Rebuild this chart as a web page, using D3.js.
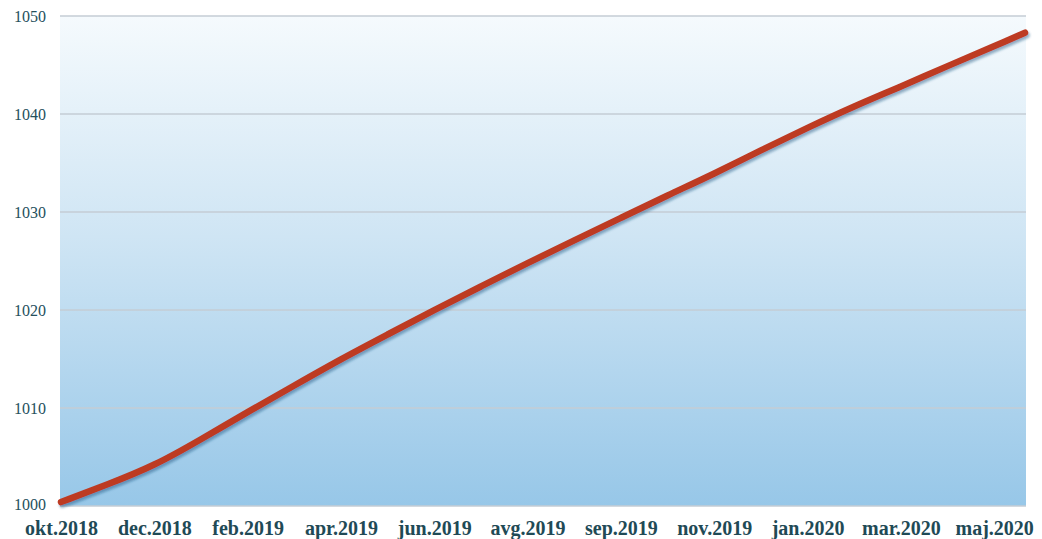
<!DOCTYPE html>
<html>
<head>
<meta charset="utf-8">
<script src="https://cdn.jsdelivr.net/npm/d3@7"></script>
<style>
  html, body { margin: 0; padding: 0; background: #ffffff; }
  svg { display: block; }
</style>
</head>
<body>
<svg id="chart" width="1042" height="539"></svg>
<script>
// ---- data ----
const xLabels = ["okt.2018", "dec.2018", "feb.2019", "apr.2019", "jun.2019", "avg.2019",
                 "sep.2019", "nov.2019", "jan.2020", "mar.2020", "maj.2020"];
// positions along the axis in label units (0 = okt.2018 ... 10 = maj.2020)
const seriesPos = [0, 0.5, 1, 1.5, 2, 2.5, 3, 3.5, 4, 4.5, 5, 5.5, 6, 6.5, 7, 7.5, 8, 8.5, 9, 9.5, 10, 10.33];
const seriesVal = [1000.4, 1002.2, 1004.1, 1006.8, 1009.6, 1012.3, 1015.0, 1017.5, 1020.0, 1022.4, 1024.8,
                   1027.1, 1029.4, 1031.7, 1033.9, 1036.3, 1038.6, 1040.8, 1042.8, 1044.9, 1046.9, 1048.3];
const yTicks = [1000, 1010, 1020, 1030, 1040, 1050];

// ---- layout ----
const svg = d3.select("#chart");
const plot = { left: 60, right: 1026, top: 16, bottom: 506 };

const x = d3.scaleLinear().domain([0, 10.33]).range([61, 1025]);
const y = d3.scaleLinear().domain([1000, 1050]).range([plot.bottom, plot.top]);

const defs = svg.append("defs");
const grad = defs.append("linearGradient").attr("id", "bg")
  .attr("x1", 0).attr("y1", 0).attr("x2", 0).attr("y2", 1);
grad.append("stop").attr("offset", "0%").attr("stop-color", "#f5fafd");
grad.append("stop").attr("offset", "45%").attr("stop-color", "#cfe5f4");
grad.append("stop").attr("offset", "100%").attr("stop-color", "#97c7e8");

const shadow = defs.append("filter").attr("id", "shadow")
  .attr("x", "-5%").attr("y", "-5%").attr("width", "110%").attr("height", "110%");
shadow.append("feDropShadow").attr("dx", 1.5).attr("dy", 2.5).attr("stdDeviation", 1.2)
  .attr("flood-color", "#1d4f7a").attr("flood-opacity", 0.45);

// plot background
svg.append("rect")
  .attr("x", plot.left).attr("y", plot.top)
  .attr("width", plot.right - plot.left).attr("height", plot.bottom - plot.top)
  .attr("fill", "url(#bg)");

// gridlines
svg.append("g").selectAll("line").data(yTicks).join("line")
  .attr("x1", plot.left).attr("x2", plot.right)
  .attr("y1", d => y(d)).attr("y2", d => y(d))
  .attr("stroke", "#c4ccd4").attr("stroke-width", 1.5);

// y axis labels
const yAxis = d3.axisLeft(y).tickValues(yTicks).tickSize(0).tickPadding(0).tickFormat(d3.format("d"));
const gy = svg.append("g").attr("transform", "translate(46,0)").call(yAxis);
gy.select(".domain").remove();
gy.selectAll("text")
  .attr("font-family", "'Liberation Serif', 'Times New Roman', serif")
  .attr("font-size", 16).attr("fill", "#24505c");
gy.selectAll(".tick").filter(d => d === 1000).select("text").attr("dy", "0.2em");

// x axis labels
const xAxis = d3.axisBottom(x).tickValues(d3.range(xLabels.length)).tickSize(0).tickPadding(0)
  .tickFormat(i => xLabels[i]);
const gx = svg.append("g").attr("transform", "translate(0,521)").call(xAxis);
gx.select(".domain").remove();
gx.selectAll("text")
  .attr("font-family", "'Liberation Serif', 'Times New Roman', serif")
  .attr("font-size", 20).attr("font-weight", "bold").attr("fill", "#1f4a56");

// line
const pts = seriesPos.map((p, i) => [p, seriesVal[i]]);
const line = d3.line().x(d => x(d[0])).y(d => y(d[1])).curve(d3.curveBasis);
svg.append("path").datum(pts)
  .attr("d", line)
  .attr("fill", "none")
  .attr("stroke", "#bd3a24")
  .attr("stroke-width", 6.5)
  .attr("stroke-linecap", "round")
  .attr("filter", "url(#shadow)");
</script>
</body>
</html>
